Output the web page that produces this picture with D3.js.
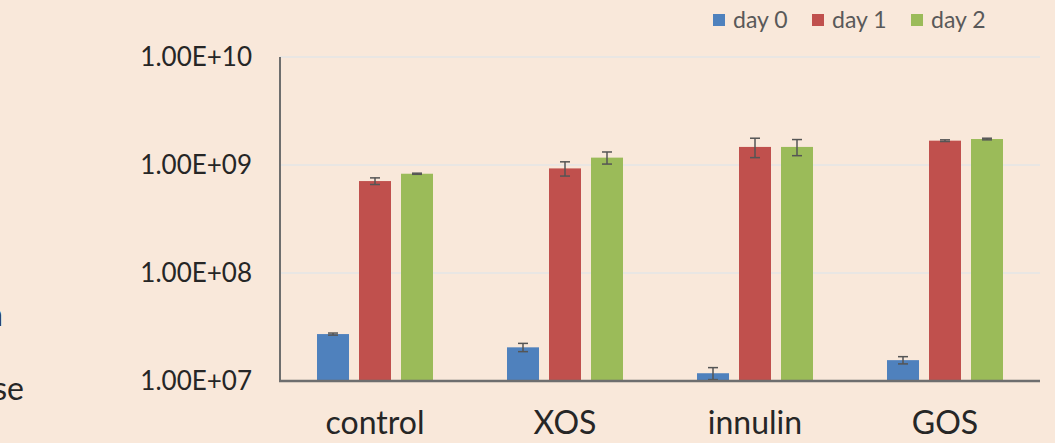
<!DOCTYPE html>
<html>
<head>
<meta charset="utf-8">
<script src="https://cdn.jsdelivr.net/npm/d3@7"></script>
<style>
  html, body { margin: 0; padding: 0; background: #F9E8DA; }
  svg { display: block; }
</style>
</head>
<body>
<svg id="chart" width="1055" height="443"></svg>
<script>
// Bacterial counts per substrate on days 0, 1 and 2 (log scale)
const categories = ["control", "XOS", "innulin", "GOS"];
const seriesNames = ["day 0", "day 1", "day 2"];
const day0 = [2.72e7, 2.05e7, 1.18e7, 1.56e7];
const day1 = [7.1e8, 9.3e8, 1.47e9, 1.68e9];
const day2 = [8.3e8, 1.17e9, 1.47e9, 1.74e9];
const day0Err = [0.06e7, 0.18e7, 0.15e7, 0.12e7];
const day1Err = [0.5e8, 1.4e8, 0.3e9, 0.03e9];
const day2Err = [0.1e8, 1.5e8, 0.25e9, 0.03e9];
const yTicks = [1e7, 1e8, 1e9, 1e10];
const yTickLabels = ["1.00E+07", "1.00E+08", "1.00E+09", "1.00E+10"];

const colors = ["#4F81BD", "#C0504D", "#9BBB59"];
const values = [day0, day1, day2];
const errors = [day0Err, day1Err, day2Err];

const svg = d3.select("#chart");
const fontFamily = "Lato, 'Open Sans', sans-serif";

const plot = { left: 280, right: 1040, top: 57, bottom: 381 };

const y = d3.scaleLog().domain([1e7, 1e10]).range([plot.bottom, plot.top]);
const x0 = d3.scaleBand().domain(categories).range([plot.left, plot.right]);
const x1 = d3.scaleBand().domain(seriesNames)
  .range([37, x0.bandwidth() - 37]).paddingInner(0.238);

// Gridlines
svg.append("g").selectAll("line")
  .data(yTicks.slice(1))
  .join("line")
  .attr("x1", plot.left).attr("x2", plot.right)
  .attr("y1", d => y(d)).attr("y2", d => y(d))
  .attr("stroke", "#E9E6E3").attr("stroke-width", 2);

// Bars
const rows = [];
seriesNames.forEach((s, si) => {
  categories.forEach((c, ci) => {
    rows.push({ s, si, c, v: values[si][ci], e: errors[si][ci] });
  });
});

svg.append("g").selectAll("rect")
  .data(rows)
  .join("rect")
  .attr("x", d => x0(d.c) + x1(d.s))
  .attr("width", x1.bandwidth())
  .attr("y", d => y(d.v))
  .attr("height", d => y(1e7) - y(d.v))
  .attr("fill", d => colors[d.si]);

// Error bars
const eg = svg.append("g").attr("stroke", "#555").attr("stroke-width", 1.5);
rows.forEach(d => {
  const cx = x0(d.c) + x1(d.s) + x1.bandwidth() / 2;
  const yHi = y(d.v + d.e), yLo = y(d.v - d.e);
  eg.append("line").attr("x1", cx).attr("x2", cx).attr("y1", yHi).attr("y2", yLo);
  eg.append("line").attr("x1", cx - 5).attr("x2", cx + 5).attr("y1", yHi).attr("y2", yHi);
  eg.append("line").attr("x1", cx - 5).attr("x2", cx + 5).attr("y1", yLo).attr("y2", yLo);
});

// Axes lines
svg.append("line")
  .attr("x1", plot.left).attr("x2", plot.left)
  .attr("y1", plot.top).attr("y2", plot.bottom)
  .attr("stroke", "#6E6E6E").attr("stroke-width", 2);
svg.append("line")
  .attr("x1", plot.left - 1).attr("x2", plot.right)
  .attr("y1", plot.bottom).attr("y2", plot.bottom)
  .attr("stroke", "#6E6E6E").attr("stroke-width", 2.5);

// Y tick labels
svg.append("g").selectAll("text")
  .data(yTicks)
  .join("text")
  .attr("x", 252)
  .attr("y", d => y(d))
  .attr("dy", "0.36em")
  .attr("text-anchor", "end")
  .attr("font-family", fontFamily)
  .attr("font-size", 26)
  .attr("fill", "#262626")
  .text((d, i) => yTickLabels[i]);

// X category labels
svg.append("g").selectAll("text")
  .data(categories)
  .join("text")
  .attr("x", d => x0(d) + x0.bandwidth() / 2)
  .attr("y", 434)
  .attr("text-anchor", "middle")
  .attr("font-family", fontFamily)
  .attr("font-size", 32)
  .attr("fill", "#262626")
  .text(d => d);

// Legend
const legendX = [713, 812, 911];
const lg = svg.append("g");
seriesNames.forEach((s, i) => {
  lg.append("rect").attr("x", legendX[i]).attr("y", 14)
    .attr("width", 12).attr("height", 12).attr("fill", colors[i]);
  lg.append("text").attr("x", legendX[i] + 20).attr("y", 28)
    .attr("font-family", fontFamily).attr("font-size", 23)
    .attr("fill", "#595959").text(s);
});

// Clipped text from the neighbouring column
svg.append("text").attr("x", 3).attr("y", 326).attr("text-anchor", "end")
  .attr("font-family", fontFamily).attr("font-size", 32).attr("fill", "#262626").text("a");
svg.append("text").attr("x", 24).attr("y", 400).attr("text-anchor", "end")
  .attr("font-family", fontFamily).attr("font-size", 32).attr("fill", "#262626").text("se");
</script>
</body>
</html>
